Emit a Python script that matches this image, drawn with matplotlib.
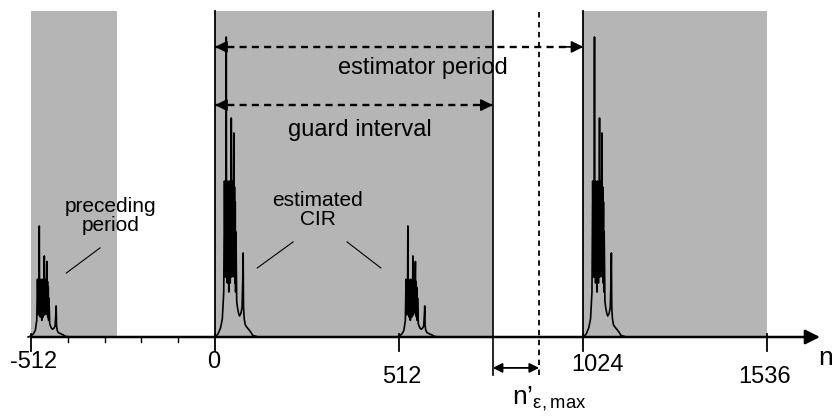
import numpy as np
import matplotlib
matplotlib.use("Agg")
import matplotlib.pyplot as plt

plt.rcParams['font.family'] = ['Liberation Sans', 'DejaVu Sans']
plt.rcParams['mathtext.fontset'] = 'custom'
plt.rcParams['mathtext.rm'] = 'Liberation Sans'

# Dữ liệu
tick_vals = [-512, 0, 512, 1024, 1536]
tick_labels = ["-512", "0", "512", "1024", "1536"]
minor_ticks = [-409.6, -307.2, -204.8, -102.4]

# vùng tô xám (bắt đầu / kết thúc)
shade_start = [-512, 0, 1024]
shade_end = [-272, 772, 1536]

guard_end = 772
eps_max_end = 901
estimator_end = 1024

# đáp ứng kênh ước lượng (CIR), trễ và biên độ chuẩn hoá
cir_n = [0, 8, 15, 20, 24, 26, 28, 29, 30, 31, 32, 33, 34, 35, 36, 37, 38, 39,
         40, 41, 42, 43, 44, 45, 46, 47, 48, 49, 50, 51, 52, 53, 54, 55, 56, 57,
         58, 60, 62, 65, 68, 72, 75, 77, 78, 79, 81, 84, 90, 97, 105, 120]
cir_h = [0.0, 0.01, 0.03, 0.06, 0.15, 0.52, 0.2, 0.5, 0.25, 1.0, 0.2, 0.52,
         0.18, 0.5, 0.22, 0.48, 0.15, 0.52, 0.2, 0.45, 0.18, 0.5, 0.25, 0.73,
         0.2, 0.52, 0.3, 0.5, 0.22, 0.48, 0.68, 0.2, 0.5, 0.18, 0.45, 0.15,
         0.35, 0.12, 0.1, 0.08, 0.07, 0.08, 0.1, 0.2, 0.28, 0.1, 0.06, 0.04,
         0.03, 0.02, 0.005, 0.0]
cluster_shift = [-520, 0, 505, 1024]
cluster_scale = [0.37, 1.0, 0.37, 1.0]

fig = plt.figure(figsize=(8.32, 4.16), dpi=100)
ax = fig.add_axes([0, 0, 1, 1])
ax.set_xlim(-598.2, 1715.5)
ax.set_ylim(-0.2633, 1.1233)
ax.axis('off')

top = 1.087
gray = '#b5b5b5'

# vùng xám
for s, e in zip(shade_start, shade_end):
    ax.fill_between([s, e], 0, top, color=gray, lw=0, zorder=1)

# các cụm CIR
n = np.array(cir_n)
h = np.array(cir_h)
for sh, sc in zip(cluster_shift, cluster_scale):
    ax.plot(n + sh, h * sc, color='k', lw=1.2, zorder=3)

# đường dọc
ax.plot([0, 0], [0, top], color='k', lw=1.3, zorder=4)
ax.plot([estimator_end, estimator_end], [0, top], color='k', lw=1.3, zorder=4)
ax.plot([guard_end, guard_end], [-0.127, top], color='k', lw=1.2, zorder=4)
ax.plot([eps_max_end, eps_max_end], [-0.127, top], color='k', lw=1.3,
        ls=(0, (3, 2.5)), zorder=4)

# trục hoành có mũi tên
ax.annotate('', xy=(1682, 0), xytext=(-512, 0),
            arrowprops=dict(arrowstyle='-|>', color='k', lw=1.8,
                            mutation_scale=22, shrinkA=0, shrinkB=0),
            zorder=5)
for t in tick_vals:
    ax.plot([t, t], [0.01, -0.045], color='k', lw=1.3, zorder=5)
for t in minor_ticks:
    ax.plot([t, t], [0.0, -0.015], color='k', lw=1.0, zorder=5)

label_y = [-0.083, -0.083, -0.133, -0.093, -0.133]
label_dx = [8, -3, 8, 38, -7]
for t, lab, ly, dx in zip(tick_vals, tick_labels, label_y, label_dx):
    ax.text(t + dx, ly, lab, ha='center', va='center', fontsize=17)


def dashed_arrow(x0, x1, y):
    # đường nét đứt với hai đầu mũi tên đặc
    ax.plot([x0, x1], [y, y], color='k', lw=1.7, ls=(0, (3, 2.2)), zorder=6)
    ax.annotate('', xy=(x0, y), xytext=(x0 + 50, y),
                arrowprops=dict(arrowstyle='-|>', color='k', lw=1.2,
                                mutation_scale=18, shrinkA=0, shrinkB=0),
                zorder=6)
    ax.annotate('', xy=(x1, y), xytext=(x1 - 50, y),
                arrowprops=dict(arrowstyle='-|>', color='k', lw=1.2,
                                mutation_scale=18, shrinkA=0, shrinkB=0),
                zorder=6)


dashed_arrow(0, estimator_end, 0.967)
dashed_arrow(0, guard_end, 0.773)

ax.text(578, 0.897, "estimator period", ha='center', va='center', fontsize=17)
ax.text(403, 0.69, "guard interval", ha='center', va='center', fontsize=17)

# mũi tên n'
ax.annotate('', xy=(guard_end, -0.103), xytext=(eps_max_end, -0.103),
            arrowprops=dict(arrowstyle='<|-|>', color='k', lw=1.3,
                            mutation_scale=14, shrinkA=0, shrinkB=0),
            zorder=6)
ax.text(826, -0.222, r"n’$_{\mathrm{ε,max}}$", ha='left', va='baseline',
        fontsize=19)
ax.text(1676, -0.07, "n’", ha='left', va='center', fontsize=19)

# chú thích
ax.text(-290, 0.403, "preceding\nperiod", ha='center', va='center',
        fontsize=15, linespacing=1.0)
ax.plot([-414, -320], [0.213, 0.297], color='k', lw=0.8, zorder=6)
ax.text(286, 0.423, "estimated\nCIR", ha='center', va='center',
        fontsize=15, linespacing=1.0)
ax.plot([117, 217], [0.23, 0.317], color='k', lw=0.8, zorder=6)
ax.plot([367, 461], [0.317, 0.23], color='k', lw=0.8, zorder=6)

fig.savefig("out.png", dpi=100)
